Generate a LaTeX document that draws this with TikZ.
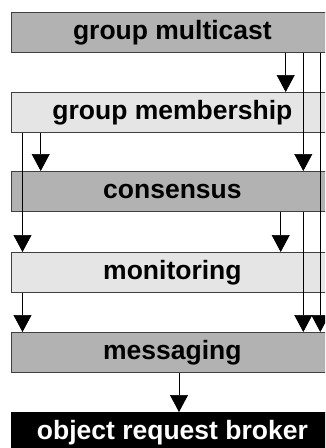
\documentclass[tikz,border=0pt]{standalone}
\usepackage{fontspec}
\setmainfont{Liberation Sans}
\usetikzlibrary{arrows.meta}

\definecolor{layerdark}{gray}{0.70}
\definecolor{layerlight}{gray}{0.90}
\definecolor{edgegray}{gray}{0.25}

\tikzset{
  layer/.style={draw=edgegray, line width=0.8pt, anchor=north west,
    minimum width=323pt, minimum height=40pt, inner sep=0pt,
    font=\fontsize{26.5}{30}\selectfont\bfseries,
    text height=19pt, text depth=5.5pt},
  darklayer/.style={layer, fill=layerdark},
  lightlayer/.style={layer, fill=layerlight},
  blacklayer/.style={layer, fill=black, draw=black, text=white},
  flow/.style={draw=black, line width=0.7pt,
    -{Triangle[width=18pt 0 0,length=17pt 0 0]}},
}

\begin{document}
\begin{tikzpicture}[x=1pt, y=-1pt]
  \useasboundingbox (0,0) rectangle (325,448);
  \clip (0,0) rectangle (325,448);

  % protocol layers, top to bottom
  \node[darklayer]  (mc)  at (10.5,12)  {group multicast};
  \node[lightlayer] (mb)  at (10.5,92)  {group membership};
  \node[darklayer]  (cs)  at (10.5,171) {consensus};
  \node[lightlayer] (mo)  at (10.5,252) {monitoring};
  \node[darklayer]  (ms)  at (10.5,332) {messaging};
  \node[blacklayer] (orb) at (10.5,412) {object request broker};

  % columns of the vertical dependency lines
  \coordinate (xa) at (22.5,0);
  \coordinate (xb) at (40.7,0);
  \coordinate (xc) at (280.7,0);
  \coordinate (xd) at (285.7,0);
  \coordinate (xe) at (303.3,0);
  \coordinate (xf) at (320.3,0);
  \coordinate (xg) at (179,0);

  % dependencies between layers
  \draw[flow] (xd |- mc.south) -- (xd |- mb.north);
  \draw[flow] (xe |- mc.south) -- (xe |- cs.north);
  \draw[flow] (xf |- mc.south) -- (xf |- ms.north);
  \draw[flow] (xa |- mb.south) -- (xa |- mo.north);
  \draw[flow] (xb |- mb.south) -- (xb |- cs.north);
  \draw[flow] (xc |- cs.south) -- (xc |- mo.north);
  \draw[flow] (xe |- cs.south) -- (xe |- ms.north);
  \draw[flow] (xa |- mo.south) -- (xa |- ms.north);
  \draw[flow] (xg |- ms.south) -- (xg |- orb.north);
\end{tikzpicture}
\end{document}
